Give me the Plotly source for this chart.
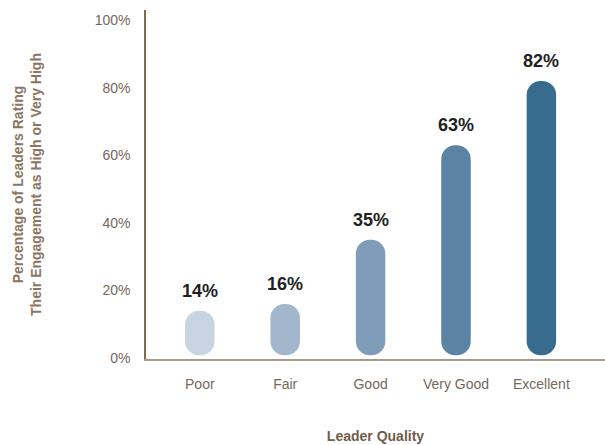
import plotly.graph_objects as go

# Leader quality survey results
categories = ["Poor", "Fair", "Good", "Very Good", "Excellent"]
values = [14, 16, 35, 63, 82]
bar_colors = ["#c8d4e2", "#a2b7cc", "#7f9db8", "#5a83a4", "#386c8e"]

y_ticks = [0, 20, 40, 60, 80, 100]
y_tick_text = [f"{t}%" for t in y_ticks]

FONT = "Liberation Sans, Arial, sans-serif"
AXIS_COLOR = "#7d6b58"
LABEL_COLOR = "#766859"

# Bars start a little above the axis line
floor = 0.8

fig = go.Figure()
fig.add_trace(go.Bar(
    x=categories,
    y=[v - floor for v in values],
    base=[floor] * len(values),
    width=0.345,
    marker=dict(color=bar_colors, line=dict(width=0), cornerradius="50%"),
    hoverinfo="skip",
    showlegend=False,
))

for c, v in zip(categories, values):
    fig.add_annotation(
        x=c, y=v, text=f"<b>{v}%</b>", showarrow=False,
        yanchor="bottom", yshift=8,
        font=dict(family=FONT, size=18, color="#231f20"),
    )

fig.update_layout(
    width=605, height=445,
    margin=dict(l=146, r=0, t=10, b=86),
    paper_bgcolor="white", plot_bgcolor="white",
    font=dict(family=FONT, size=14, color=LABEL_COLOR),
    xaxis=dict(
        type="category",
        range=[-0.63, 4.745],
        showline=True, linecolor="#a89a88", linewidth=2,
        showgrid=False, zeroline=False,
        ticks="outside", ticklen=11, tickcolor="rgba(0,0,0,0)",
        tickfont=dict(size=14, color=LABEL_COLOR),
        title=dict(text="<b>Leader Quality</b>", standoff=40,
                   font=dict(size=14, color="#6f5e4c")),
    ),
    yaxis=dict(
        range=[-0.3, 103],
        tickvals=y_ticks, ticktext=y_tick_text,
        showline=True, linecolor=AXIS_COLOR, linewidth=1.5,
        showgrid=False, zeroline=False,
        ticks="outside", ticklen=11, tickcolor="rgba(0,0,0,0)",
        tickfont=dict(size=14, color=LABEL_COLOR),
        title=dict(
            text="<b>Percentage of Leaders Rating<br>Their Engagement as High or Very High</b>",
            standoff=50,
            font=dict(size=14, color="#8a755f"),
        ),
    ),
)

fig.write_html("out.html")
